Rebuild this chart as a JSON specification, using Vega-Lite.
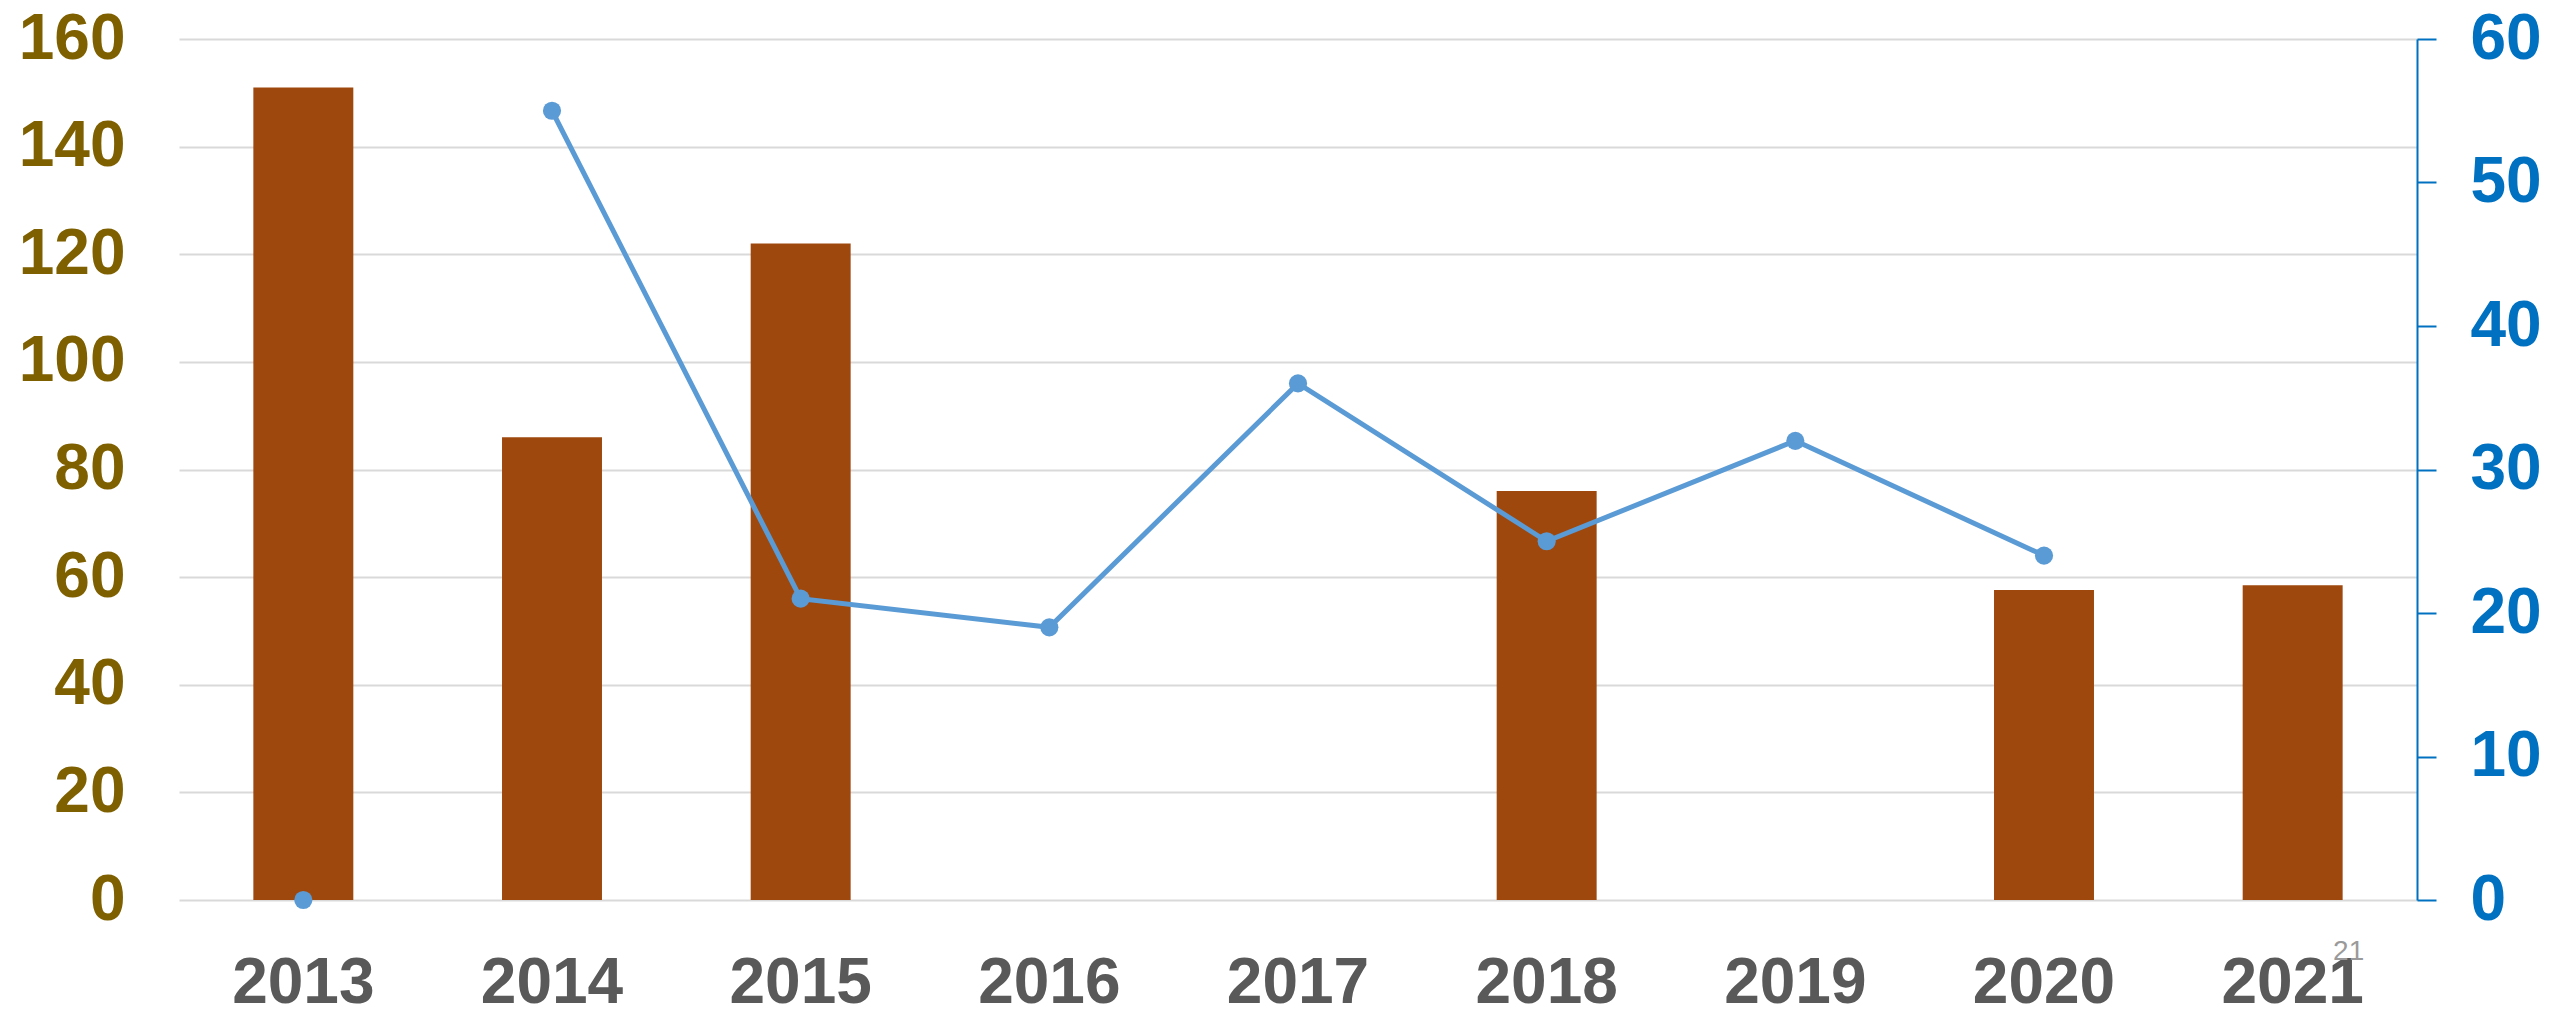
{
  "$schema": "https://vega.github.io/schema/vega-lite/v6.json",
  "autosize": {"type": "none"},
  "padding": {"left": 179, "top": 39, "right": 135, "bottom": 118},
  "width": 2238,
  "height": 861,
  "background": "#FFFFFF",
  "config": {
    "view": {"stroke": null},
    "font": "Liberation Sans"
  },
  "data": {
    "values": [
      {"year": "2013", "bars": 151, "rate": 0},
      {"year": "2014", "bars": 86, "rate": 55},
      {"year": "2015", "bars": 122, "rate": 21},
      {"year": "2016", "bars": null, "rate": 19},
      {"year": "2017", "bars": null, "rate": 36},
      {"year": "2018", "bars": 76, "rate": 25},
      {"year": "2019", "bars": null, "rate": 32},
      {"year": "2020", "bars": 57.6, "rate": 24},
      {"year": "2021", "bars": 58.5, "rate": null}
    ]
  },
  "encoding": {
    "x": {
      "field": "year",
      "type": "nominal",
      "scale": {
        "type": "band",
        "domain": ["2013", "2014", "2015", "2016", "2017", "2018", "2019", "2020", "2021"],
        "paddingInner": 0.598,
        "paddingOuter": 0.299
      },
      "axis": {
        "title": null,
        "orient": "bottom",
        "domain": false,
        "ticks": false,
        "tickSize": 0,
        "labelAngle": 0,
        "labelPadding": 51,
        "labelBaseline": "top",
        "labelFont": "Liberation Sans",
        "labelFontSize": 64,
        "labelFontWeight": "bold",
        "labelColor": "#595959"
      }
    }
  },
  "layer": [
    {
      "layer": [
        {
          "mark": {"type": "bar", "color": "#9E480E"},
          "encoding": {
            "y": {
              "field": "bars",
              "type": "quantitative",
              "scale": {"domain": [0, 160], "nice": false},
              "axis": {
                "title": null,
                "orient": "left",
                "values": [0, 20, 40, 60, 80, 100, 120, 140, 160],
                "grid": true,
                "gridColor": "#D9D9D9",
                "gridWidth": 2,
                "domain": false,
                "ticks": false,
                "tickSize": 0,
                "labelPadding": 54,
                "labelFont": "Liberation Sans",
                "labelFontSize": 64,
                "labelFontWeight": "bold",
                "labelColor": "#7F6000"
              }
            }
          }
        },
        {
          "transform": [{"filter": "datum.year === '2021'"}],
          "mark": {
            "type": "text",
            "font": "Liberation Sans",
            "fontSize": 28,
            "color": "#9A9A9A",
            "baseline": "middle",
            "align": "center",
            "dx": 56,
            "dy": 52
          },
          "encoding": {
            "y": {"datum": 0, "type": "quantitative"},
            "text": {"value": "21"}
          }
        }
      ]
    },
    {
      "layer": [
        {
          "transform": [{"filter": "datum.year !== '2013'"}],
          "mark": {"type": "line", "color": "#5B9BD5", "strokeWidth": 5},
          "encoding": {
            "y": {
              "field": "rate",
              "type": "quantitative",
              "scale": {"domain": [0, 60], "nice": false},
              "axis": {
                "title": null,
                "orient": "right",
                "values": [0, 10, 20, 30, 40, 50, 60],
                "grid": false,
                "domain": true,
                "domainColor": "#0070C0",
                "domainWidth": 2,
                "ticks": true,
                "tickColor": "#0070C0",
                "tickWidth": 2,
                "tickSize": 19,
                "labelPadding": 34,
                "labelFont": "Liberation Sans",
                "labelFontSize": 64,
                "labelFontWeight": "bold",
                "labelColor": "#0070C0"
              }
            }
          }
        },
        {
          "mark": {"type": "point", "filled": true, "color": "#5B9BD5", "size": 330, "opacity": 1},
          "encoding": {
            "y": {"field": "rate", "type": "quantitative"}
          }
        }
      ]
    }
  ],
  "resolve": {"scale": {"y": "independent"}}
}
